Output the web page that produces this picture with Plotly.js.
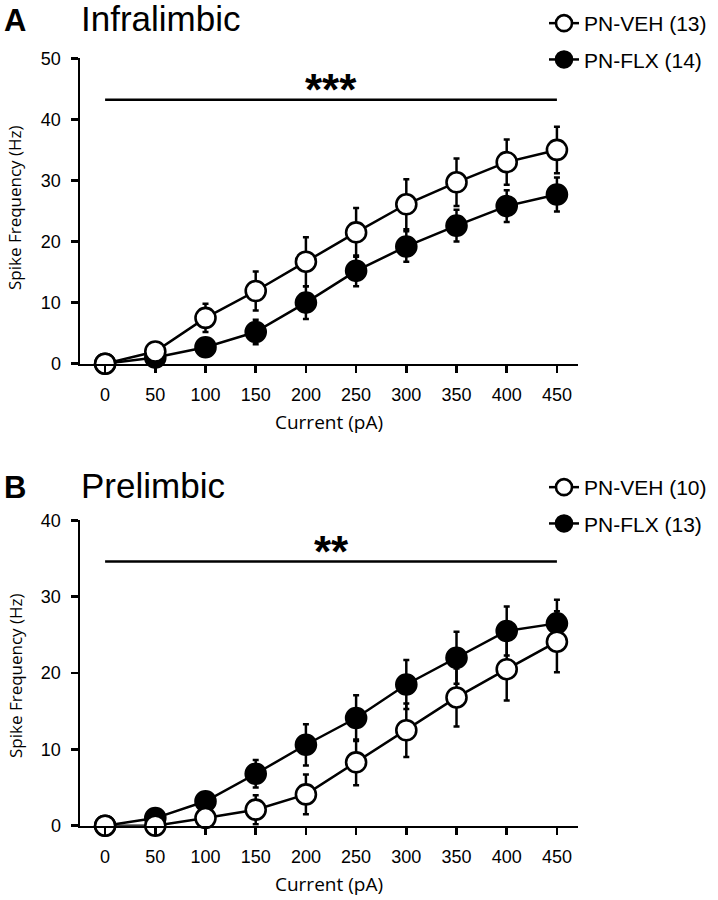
<!DOCTYPE html>
<html>
<head>
<meta charset="utf-8">
<script src="https://cdn.plot.ly/plotly-3.0.1.min.js"></script>
<style>html,body{margin:0;padding:0;background:#fff;}</style>
</head>
<body>
<div id="chart" style="width:718px;height:900px;"></div>
<script>
// ---- data ----
const currents = [0, 50, 100, 150, 200, 250, 300, 350, 400, 450];

// Panel A: Infralimbic
const ilVeh    = [0, 2.0, 7.5, 11.9, 16.7, 21.5, 26.1, 29.7, 33.0, 35.0];
const ilVehErr = [0, 0.5, 2.3, 3.2, 4.0, 4.0, 4.1, 3.9, 3.7, 3.8];
const ilFlx    = [0, 1.0, 2.7, 5.2, 10.0, 15.2, 19.2, 22.6, 25.8, 27.7];
const ilFlxErr = [0, 0.4, 0.8, 2.0, 2.7, 2.5, 2.5, 2.6, 2.6, 2.8];

// Panel B: Prelimbic
const plVeh    = [0, 0, 1.0, 2.1, 4.1, 8.3, 12.5, 16.8, 20.5, 24.1];
const plVehErr = [0, 0.3, 0.8, 1.9, 2.6, 3.0, 3.5, 3.8, 4.1, 4.0];
const plFlx    = [0, 1.0, 3.2, 6.8, 10.6, 14.1, 18.5, 22.0, 25.5, 26.5];
const plFlxErr = [0, 0.3, 0.8, 1.8, 2.7, 3.0, 3.2, 3.4, 3.2, 3.1];

const legendA = ['PN-VEH (13)', 'PN-FLX (14)'];
const legendB = ['PN-VEH (10)', 'PN-FLX (13)'];
const panelTitles = ['Infralimbic', 'Prelimbic'];
const panelLetters = ['A', 'B'];
const sigA = {text: '***', y: 43.2};
const sigB = {text: '**', y: 34.6};
const xTickVals = currents;
const xTitle = 'Current (pA)';
const yTitle = 'Spike Frequency (Hz)';

// ---- styling ----
const W = 718, H = 900;
const px = v => v / W;
const py = v => 1 - v / H;
const LW = 2.5;

function trace(x, y, err, name, filled, xa, ya, leg, rank) {
  return {
    type: 'scatter', mode: 'lines+markers', x: x, y: y, name: name,
    xaxis: xa, yaxis: ya, legend: leg, legendrank: rank, legendgroup: name + leg,
    cliponaxis: false,
    line: {color: '#000', width: LW},
    marker: {symbol: 'circle', size: 20, color: filled ? '#000' : '#fff',
             line: {color: '#000', width: 2.6}},
    error_y: {type: 'data', array: err, visible: true, color: '#000',
              thickness: 2.5, width: 3}
  };
}

const data = [
  trace(currents, ilFlx, ilFlxErr, legendA[1], true, 'x', 'y', 'legend', 2),
  trace(currents, ilVeh, ilVehErr, legendA[0], false, 'x', 'y', 'legend', 1),
  trace(currents, plFlx, plFlxErr, legendB[1], true, 'x2', 'y2', 'legend2', 2),
  trace(currents, plVeh, plVehErr, legendB[0], false, 'x2', 'y2', 'legend2', 1)
];

const tickFont = {family: 'Liberation Sans, Arial, sans-serif', size: 18, color: '#000'};
const titleFont = {family: 'Open Sans, sans-serif', size: 17, color: '#000'};

function xAxis(anchor) {
  return {
    anchor: anchor, domain: [px(80), px(578)], range: [-25, 471],
    showline: true, linecolor: '#000', linewidth: LW,
    ticks: 'outside', ticklen: 7, tickwidth: LW, tickcolor: '#000',
    tickvals: xTickVals, tickfont: tickFont, ticklabelstandoff: 6,
    showgrid: false, zeroline: false,
    title: {text: xTitle, font: {family: 'Open Sans, sans-serif', size: 19, color: '#000'}, standoff: 12}
  };
}
function yAxis(anchor, dom, maxv) {
  return {
    anchor: anchor, domain: dom, range: [0, maxv],
    showline: true, linecolor: '#000', linewidth: LW,
    ticks: 'outside', ticklen: 7, tickwidth: LW, tickcolor: '#000',
    dtick: 10, tick0: 0, tickfont: tickFont, ticklabelstandoff: 6,
    showgrid: false, zeroline: false
  };
}

const legendBase = {
  font: {family: 'Liberation Sans, Arial, sans-serif', size: 21, color: '#000'},
  bgcolor: 'rgba(0,0,0,0)', xanchor: 'left', yanchor: 'top',
  tracegroupgap: 6, itemclick: false
};

const layout = {
  width: W, height: H, margin: {l: 0, r: 0, t: 0, b: 0},
  paper_bgcolor: '#fff', plot_bgcolor: '#fff',
  showlegend: true,
  xaxis: xAxis('y'),
  yaxis: yAxis('x', [py(363.7), py(58.3)], 50),
  xaxis2: xAxis('y2'),
  yaxis2: yAxis('x2', [py(825.7), py(520.3)], 40),
  legend: Object.assign({}, legendBase, {x: px(544), y: py(3)}),
  legend2: Object.assign({}, legendBase, {x: px(544), y: py(467)}),
  shapes: [
    {type: 'line', xref: 'x', yref: 'y', x0: currents[0], x1: currents[currents.length - 1],
     y0: sigA.y, y1: sigA.y, line: {color: '#000', width: LW}},
    {type: 'line', xref: 'x2', yref: 'y2', x0: currents[0], x1: currents[currents.length - 1],
     y0: sigB.y, y1: sigB.y, line: {color: '#000', width: LW}}
  ],
  annotations: [
    {text: sigA.text, xref: 'x', yref: 'y', x: 225, y: sigA.y, yanchor: 'bottom', yshift: -16,
     showarrow: false, font: {family: 'Liberation Sans, Arial, sans-serif', size: 44, color: '#000', weight: 'bold'}},
    {text: sigB.text, xref: 'x2', yref: 'y2', x: 225, y: sigB.y, yanchor: 'bottom', yshift: -16,
     showarrow: false, font: {family: 'Liberation Sans, Arial, sans-serif', size: 44, color: '#000', weight: 'bold'}},
    {text: panelLetters[0], xref: 'paper', yref: 'paper', x: px(2), y: py(21), xanchor: 'left', yanchor: 'middle',
     showarrow: false, font: {family: 'Liberation Sans, Arial, sans-serif', size: 31, color: '#000', weight: 'bold'}},
    {text: panelLetters[1], xref: 'paper', yref: 'paper', x: px(2), y: py(487), xanchor: 'left', yanchor: 'middle',
     showarrow: false, font: {family: 'Liberation Sans, Arial, sans-serif', size: 31, color: '#000', weight: 'bold'}},
    {text: panelTitles[0], xref: 'paper', yref: 'paper', x: px(79), y: py(19), xanchor: 'left', yanchor: 'middle',
     showarrow: false, font: {family: 'Liberation Sans, Arial, sans-serif', size: 35, color: '#000'}},
    {text: panelTitles[1], xref: 'paper', yref: 'paper', x: px(79), y: py(485), xanchor: 'left', yanchor: 'middle',
     showarrow: false, font: {family: 'Liberation Sans, Arial, sans-serif', size: 35, color: '#000'}},
    {text: yTitle, xref: 'paper', yref: 'paper', x: px(15), y: py(208), xanchor: 'center', yanchor: 'middle',
     textangle: -90, showarrow: false, font: titleFont},
    {text: yTitle, xref: 'paper', yref: 'paper', x: px(15), y: py(676), xanchor: 'center', yanchor: 'middle',
     textangle: -90, showarrow: false, font: titleFont}
  ]
};

Plotly.newPlot('chart', data, layout, {staticPlot: true, displayModeBar: false});
</script>
</body>
</html>
